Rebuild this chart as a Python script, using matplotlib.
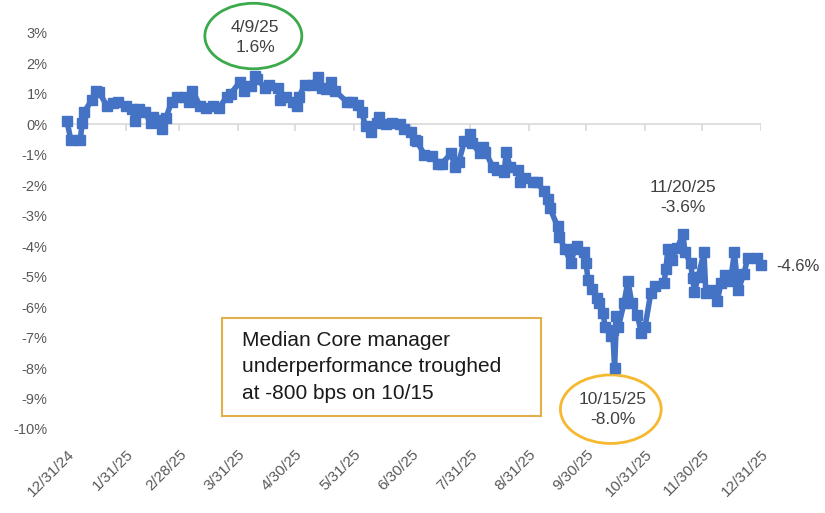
import pandas as pd
import matplotlib.pyplot as plt
from matplotlib.patches import Ellipse, Rectangle

plt.rcParams["font.family"] = ["Liberation Sans", "DejaVu Sans"]

# Relative performance of median Core manager (%)
dates = [
    "2024-12-31", "2025-01-02", "2025-01-07", "2025-01-08", "2025-01-09", "2025-01-13",
    "2025-01-15", "2025-01-17", "2025-01-21", "2025-01-24", "2025-01-27", "2025-01-31",
    "2025-02-03", "2025-02-05", "2025-02-07", "2025-02-10", "2025-02-13", "2025-02-14",
    "2025-02-18", "2025-02-19", "2025-02-21", "2025-02-24", "2025-02-27", "2025-03-03",
    "2025-03-05", "2025-03-07", "2025-03-11", "2025-03-14", "2025-03-18", "2025-03-21",
    "2025-03-25", "2025-03-27", "2025-04-01", "2025-04-03", "2025-04-07", "2025-04-09",
    "2025-04-10", "2025-04-14", "2025-04-16", "2025-04-21", "2025-04-22", "2025-04-25",
    "2025-04-29", "2025-05-01", "2025-05-02", "2025-05-05", "2025-05-09", "2025-05-12",
    "2025-05-14", "2025-05-16", "2025-05-19", "2025-05-21", "2025-05-27", "2025-05-30",
    "2025-06-02", "2025-06-04", "2025-06-06", "2025-06-09", "2025-06-12", "2025-06-13",
    "2025-06-17", "2025-06-20", "2025-06-24", "2025-06-26", "2025-06-30", "2025-07-02",
    "2025-07-03", "2025-07-07", "2025-07-11", "2025-07-14", "2025-07-16", "2025-07-21",
    "2025-07-23", "2025-07-25", "2025-07-28", "2025-07-31", "2025-08-01", "2025-08-05",
    "2025-08-07", "2025-08-08", "2025-08-12", "2025-08-14", "2025-08-18", "2025-08-19",
    "2025-08-21", "2025-08-25", "2025-08-26", "2025-08-29", "2025-09-02", "2025-09-04",
    "2025-09-08", "2025-09-10", "2025-09-11", "2025-09-15", "2025-09-16", "2025-09-19",
    "2025-09-22", "2025-09-24", "2025-09-25", "2025-09-29", "2025-09-30", "2025-10-01",
    "2025-10-03", "2025-10-06", "2025-10-07", "2025-10-09", "2025-10-10", "2025-10-13",
    "2025-10-14", "2025-10-15", "2025-10-16", "2025-10-17", "2025-10-20", "2025-10-22",
    "2025-10-24", "2025-10-27", "2025-10-29", "2025-10-31", "2025-11-03", "2025-11-05",
    "2025-11-10", "2025-11-11", "2025-11-12", "2025-11-14", "2025-11-17", "2025-11-20",
    "2025-11-21", "2025-11-24", "2025-11-25", "2025-11-26", "2025-11-28", "2025-12-01",
    "2025-12-02", "2025-12-05", "2025-12-08", "2025-12-10", "2025-12-12", "2025-12-15",
    "2025-12-17", "2025-12-19", "2025-12-22", "2025-12-24", "2025-12-29", "2025-12-31",
]
values = [
    0.1, -0.5, -0.5, 0.05, 0.4, 0.8,
    1.1, 1.05, 0.6, 0.7, 0.75, 0.6,
    0.5, 0.1, 0.5, 0.4, 0.05, 0.25,
    0.15, -0.15, 0.2, 0.75, 0.9, 0.9,
    0.75, 1.1, 0.6, 0.55, 0.6, 0.55,
    0.9, 1.0, 1.4, 1.1, 1.25, 1.6,
    1.5, 1.2, 1.3, 1.2, 0.8, 0.9,
    0.75, 0.6, 0.9, 1.3, 1.3, 1.55,
    1.2, 1.15, 1.4, 1.1, 0.75, 0.75,
    0.65, 0.4, -0.05, -0.25, 0.05, 0.25,
    0.0, 0.05, 0.0, -0.15, -0.25, -0.5,
    -0.55, -1.0, -1.05, -1.3, -1.3, -0.95,
    -1.4, -1.25, -0.55, -0.33, -0.6, -0.95,
    -0.75, -0.9, -1.4, -1.5, -1.55, -0.9,
    -1.4, -1.5, -1.9, -1.75, -1.9, -1.9,
    -2.2, -2.45, -2.75, -3.35, -3.7, -4.1,
    -4.55, -4.1, -4.0, -4.2, -4.55, -5.1,
    -5.4, -5.7, -5.85, -6.2, -6.65, -6.95,
    -6.75, -8.0, -6.3, -6.65, -5.85, -5.15,
    -5.85, -6.25, -6.85, -6.65, -5.55, -5.3,
    -5.2, -4.75, -4.1, -4.45, -4.05, -3.6,
    -4.2, -4.55, -5.05, -5.5, -5.0, -4.2,
    -5.55, -5.45, -5.8, -5.2, -4.95, -5.15,
    -4.2, -5.45, -4.9, -4.4, -4.4, -4.6,
]

tick_dates = ["2024-12-31", "2025-01-31", "2025-02-28", "2025-03-31", "2025-04-30",
              "2025-05-31", "2025-06-30", "2025-07-31", "2025-08-31", "2025-09-30",
              "2025-10-31", "2025-11-30", "2025-12-31"]
tick_labels = ["12/31/24", "1/31/25", "2/28/25", "3/31/25", "4/30/25", "5/31/25", "6/30/25",
               "7/31/25", "8/31/25", "9/30/25", "10/31/25", "11/30/25", "12/31/25"]
y_ticks = [3, 2, 1, 0, -1, -2, -3, -4, -5, -6, -7, -8, -9, -10]

df = pd.DataFrame({"date": pd.to_datetime(dates), "value": values})
ticks = pd.to_datetime(tick_dates)

blue = "#4472C4"
gray_txt = "#595959"
note_txt = "#404040"

fig = plt.figure(figsize=(8.25, 5.13), dpi=100)
ax = fig.add_axes([67 / 825, 1 - 429 / 513, 694 / 825, 396 / 513])

ax.plot(df["date"], df["value"], color=blue, linewidth=4, marker="s",
        markersize=6.5, clip_on=False, zorder=3)

ax.set_xlim(ticks[0], ticks[-1])
ax.set_ylim(-10, 3)

# zero line with month tick marks (Excel style)
ax.axhline(0, color="#D9D9D9", linewidth=1.2, zorder=1)
ax.vlines(ticks, -0.22, 0, color="#D9D9D9", linewidth=1.2, zorder=1)

ax.set_xticks(ticks)
ax.set_xticklabels(tick_labels, rotation=45, ha="right", rotation_mode="anchor",
                   color=gray_txt, fontsize=11)
ax.set_yticks(y_ticks)
ax.set_yticklabels([f"{v}%" for v in y_ticks], color=gray_txt, fontsize=10.5)
ax.tick_params(length=0)
ax.tick_params(axis="x", pad=13)
ax.tick_params(axis="y", pad=14)
for s in ax.spines.values():
    s.set_visible(False)

# annotations
ax.text(pd.Timestamp("2025-04-09"), 2.84, "4/9/25\n1.6%", ha="center", va="center",
        fontsize=12.5, color=note_txt, linespacing=1.4)
ax.add_patch(Ellipse((pd.Timestamp("2025-04-08"), 2.9), width=51, height=2.15,
                     fill=False, edgecolor="#3BAA4A", linewidth=2, clip_on=False))

ax.text(pd.Timestamp("2025-11-20"), -2.4, "11/20/25\n-3.6%", ha="center", va="center",
        fontsize=12.5, color=note_txt, linespacing=1.4)

ax.text(pd.Timestamp("2025-12-31") + pd.Timedelta(days=8), -4.67, "-4.6%", ha="left",
        va="center", fontsize=12, color=note_txt, clip_on=False)

ax.text(pd.Timestamp("2025-10-14"), -9.36, "10/15/25\n-8.0%", ha="center", va="center",
        fontsize=12.5, color=note_txt, linespacing=1.4)
ax.add_patch(Ellipse((pd.Timestamp("2025-10-13"), -9.35), width=53, height=2.25,
                     fill=False, edgecolor="#F5B82E", linewidth=2, clip_on=False))

box = Rectangle((222 / 825, 1 - 416 / 513), (541 - 222) / 825, (416 - 318) / 513,
                transform=fig.transFigure, fill=True, facecolor="white",
                edgecolor="#E2B04A", linewidth=1.5)
fig.patches.append(box)
fig.text(242 / 825, 1 - 367 / 513, "Median Core manager\nunderperformance troughed\nat -800 bps on 10/15",
         ha="left", va="center", fontsize=15, color="#1a1a1a", linespacing=1.5)

fig.savefig("out.png", dpi=100)
